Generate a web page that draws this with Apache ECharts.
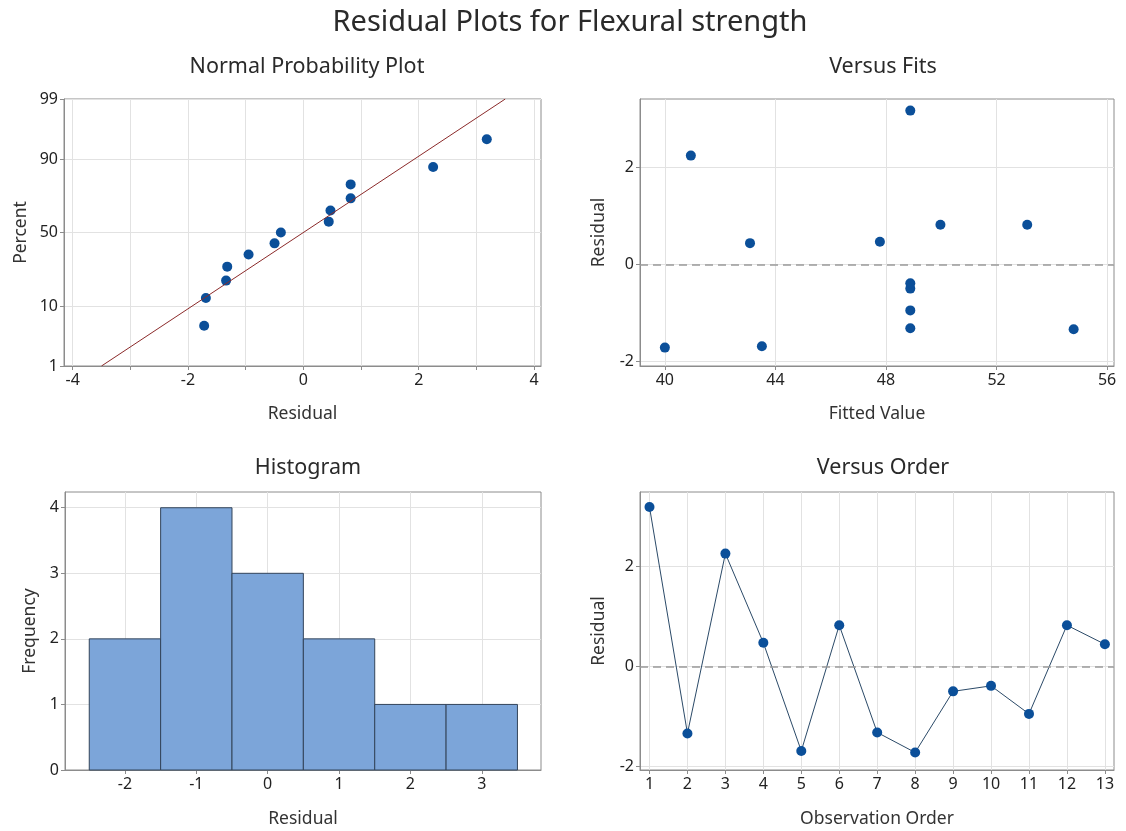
<!DOCTYPE html>
<html>
<head>
<meta charset="utf-8">
<title>Residual Plots for Flexural strength</title>
<script src="https://cdn.jsdelivr.net/npm/echarts@6/dist/echarts.min.js"></script>
<style>
  html, body { margin: 0; padding: 0; background: #fff; }
  #main { width: 1126px; height: 831px; }
</style>
</head>
<body>
<div id="main"></div>
<script>
'use strict';

// residuals in observation order (read from Versus Order)
var residuals = [3.18, -1.34, 2.25, 0.47, -1.69, 0.82, -1.32, -1.72, -0.50, -0.39, -0.95, 0.82, 0.44];
// fitted values, same order (read from Versus Fits)
var fitted = [48.88, 54.79, 40.94, 47.78, 43.51, 49.97, 48.88, 40.0, 48.88, 48.88, 48.88, 53.11, 43.08];
var observation = [1, 2, 3, 4, 5, 6, 7, 8, 9, 10, 11, 12, 13];

// normal probability plot: percent for the sorted residuals
var normPct = [5.2, 12.7, 20.1, 27.6, 35.1, 42.5, 50, 57.5, 64.9, 72.4, 79.9, 87.3, 94.8];
var fitLineX = [-3.5, 3.5];
var fitLinePct = [1, 99];
var pctTicks = [1, 10, 50, 90, 99];

// histogram
var binCenters = [-2, -1, 0, 1, 2, 3];
var binCounts = [2, 4, 3, 2, 1, 1];
var binWidth = 1;

// tick values
var normXTicks = [-4, -3, -2, -1, 0, 1, 2, 3, 4];
var normXLabels = [-4, -2, 0, 2, 4];
var fitsXTicks = [40, 44, 48, 52, 56];
var residTicks = [-2, 0, 2];
var histXTicks = [-2, -1, 0, 1, 2, 3];
var freqTicks = [0, 1, 2, 3, 4];

// inverse normal cdf (Acklam) - probability axis scale
function probit(p) {
    var a = [-3.969683028665376e+01, 2.209460984245205e+02, -2.759285104469687e+02, 1.383577518672690e+02, -3.066479806614716e+01, 2.506628277459239e+00];
    var b = [-5.447609879822406e+01, 1.615858368580409e+02, -1.556989798598866e+02, 6.680131188771972e+01, -1.328068155288572e+01];
    var c = [-7.784894002430293e-03, -3.223964580411365e-01, -2.400758277161838e+00, -2.549732539343734e+00, 4.374664141464968e+00, 2.938163982698783e+00];
    var d = [7.784695709041462e-03, 3.224671290700398e-01, 2.445134137142996e+00, 3.754408661907416e+00];
    var pl = 0.02425, q, r;
    if (p < pl) {
        q = Math.sqrt(-2 * Math.log(p));
        return (((((c[0]*q+c[1])*q+c[2])*q+c[3])*q+c[4])*q+c[5]) / ((((d[0]*q+d[1])*q+d[2])*q+d[3])*q+1);
    }
    if (p > 1 - pl) {
        q = Math.sqrt(-2 * Math.log(1 - p));
        return -(((((c[0]*q+c[1])*q+c[2])*q+c[3])*q+c[4])*q+c[5]) / ((((d[0]*q+d[1])*q+d[2])*q+d[3])*q+1);
    }
    q = p - 0.5; r = q * q;
    return (((((a[0]*r+a[1])*r+a[2])*r+a[3])*r+a[4])*r+a[5])*q / (((((b[0]*r+b[1])*r+b[2])*r+b[3])*r+b[4])*r+1);
}

var FONT = 'Noto Sans';
var dotColor = '#0b4f99';
var boxColor = '#8c8c8c';
var gridColor = '#e2e2e2';

var sortedRes = residuals.slice().sort(function (a, b) { return a - b; });
var normData = sortedRes.map(function (v, i) { return [v, probit(normPct[i] / 100)]; });
var fitLineData = fitLineX.map(function (v, i) { return [v, probit(fitLinePct[i] / 100)]; });
var zTicks = pctTicks.map(function (p) { return probit(p / 100); });
var fitsData = fitted.map(function (v, i) { return [v, residuals[i]]; });
var orderData = observation.map(function (v, i) { return [v, residuals[i]]; });
var histData = binCenters.map(function (v, i) { return [v, binCounts[i]]; });

function xAxisOf(idx, name, gap, min, max, ticks, labels) {
    return {
        type: 'value', gridIndex: idx, name: name, nameLocation: 'middle', nameGap: gap,
        nameTextStyle: { fontFamily: FONT, fontSize: 17.5, color: '#333' },
        min: min, max: max,
        axisLine: { onZero: false, lineStyle: { color: boxColor } },
        axisTick: { show: true, length: 4, customValues: ticks, lineStyle: { color: boxColor } },
        axisLabel: { customValues: labels || ticks, fontFamily: FONT, fontSize: 16, color: '#222', margin: 6 },
        splitLine: { show: true, lineStyle: { color: gridColor } }
    };
}

function yAxisOf(idx, name, gap, min, max, ticks, fmt) {
    return {
        type: 'value', gridIndex: idx, name: name, nameLocation: 'middle', nameGap: gap,
        nameTextStyle: { fontFamily: FONT, fontSize: 17.5, color: '#333' },
        min: min, max: max,
        axisLine: { show: true, onZero: false, lineStyle: { color: boxColor } },
        axisTick: { show: true, length: 4, customValues: ticks, lineStyle: { color: boxColor } },
        axisLabel: { customValues: ticks, fontFamily: FONT, fontSize: 16, color: '#222', margin: 6, formatter: fmt },
        splitLine: { show: true, lineStyle: { color: gridColor } }
    };
}

var zeroLine = {
    silent: true, symbol: 'none', label: { show: false },
    lineStyle: { color: '#9a9a9a', type: [8, 5], width: 1.5 },
    data: [{ yAxis: 0 }]
};

function panelTitle(text, x, y) {
    return { text: text, left: x, top: y, textAlign: 'center',
             textStyle: { fontFamily: FONT, fontSize: 21.5, fontWeight: 'normal', color: '#2a2a2a' } };
}

var myChart = echarts.init(document.getElementById('main'), null, { renderer: 'canvas' });

var option = {
    backgroundColor: '#fff',
    animation: false,
    title: [
        { text: 'Residual Plots for Flexural strength', left: 565, top: 3, textAlign: 'center',
          textStyle: { fontFamily: FONT, fontSize: 29, fontWeight: 'normal', color: '#2a2a2a' } },
        panelTitle('Normal Probability Plot', 302, 51),
        panelTitle('Versus Fits', 878, 51),
        panelTitle('Histogram', 303, 452),
        panelTitle('Versus Order', 878, 452)
    ],
    grid: [
        { left: 64, top: 99, width: 477, height: 267, show: true, borderColor: boxColor, borderWidth: 1 },
        { left: 640, top: 99, width: 474, height: 267, show: true, borderColor: boxColor, borderWidth: 1 },
        { left: 65, top: 492, width: 476, height: 278, show: true, borderColor: boxColor, borderWidth: 1 },
        { left: 640, top: 492, width: 474, height: 278, show: true, borderColor: boxColor, borderWidth: 1 }
    ],
    xAxis: [
        xAxisOf(0, 'Residual', 39, -4.15, 4.12, normXTicks, normXLabels),
        xAxisOf(1, 'Fitted Value', 39, 39.1, 56.25, fitsXTicks),
        xAxisOf(2, 'Residual', 40, -2.84, 3.83, histXTicks),
        xAxisOf(3, 'Observation Order', 40, 0.75, 13.24, observation)
    ],
    yAxis: [
        yAxisOf(0, 'Percent', 34, zTicks[0], zTicks[zTicks.length - 1], zTicks, function (v) {
            var best = 0;
            zTicks.forEach(function (z, i) { if (Math.abs(z - v) < Math.abs(zTicks[best] - v)) best = i; });
            return String(pctTicks[best]);
        }),
        yAxisOf(1, 'Residual', 32, -2.1, 3.42, residTicks),
        yAxisOf(2, 'Frequency', 26, 0, 4.24, freqTicks),
        yAxisOf(3, 'Residual', 32, -2.07, 3.48, residTicks)
    ],
    series: [
        {
            type: 'line', xAxisIndex: 0, yAxisIndex: 0, data: fitLineData,
            symbol: 'none', lineStyle: { color: '#8b2a2a', width: 1 }, silent: true
        },
        {
            type: 'scatter', xAxisIndex: 0, yAxisIndex: 0, data: normData,
            symbolSize: 10, itemStyle: { color: dotColor, opacity: 1 }
        },
        {
            type: 'scatter', xAxisIndex: 1, yAxisIndex: 1, data: fitsData,
            symbolSize: 10, itemStyle: { color: dotColor, opacity: 1 }, markLine: zeroLine
        },
        {
            type: 'custom', xAxisIndex: 2, yAxisIndex: 2, data: histData,
            encode: { x: 0, y: 1 },
            renderItem: function (params, api) {
                var lo = api.coord([api.value(0) - binWidth / 2, api.value(1)]);
                var hi = api.coord([api.value(0) + binWidth / 2, 0]);
                return {
                    type: 'rect',
                    shape: { x: lo[0], y: lo[1], width: hi[0] - lo[0], height: hi[1] - lo[1] },
                    style: { fill: '#7ca5d9', stroke: '#33445a', lineWidth: 1 }
                };
            }
        },
        {
            type: 'line', xAxisIndex: 3, yAxisIndex: 3, data: orderData,
            symbol: 'circle', symbolSize: 10,
            lineStyle: { color: '#2b4a68', width: 1 },
            itemStyle: { color: dotColor, opacity: 1 },
            markLine: zeroLine, z: 3
        }
    ]
};

myChart.setOption(option);
</script>
</body>
</html>
